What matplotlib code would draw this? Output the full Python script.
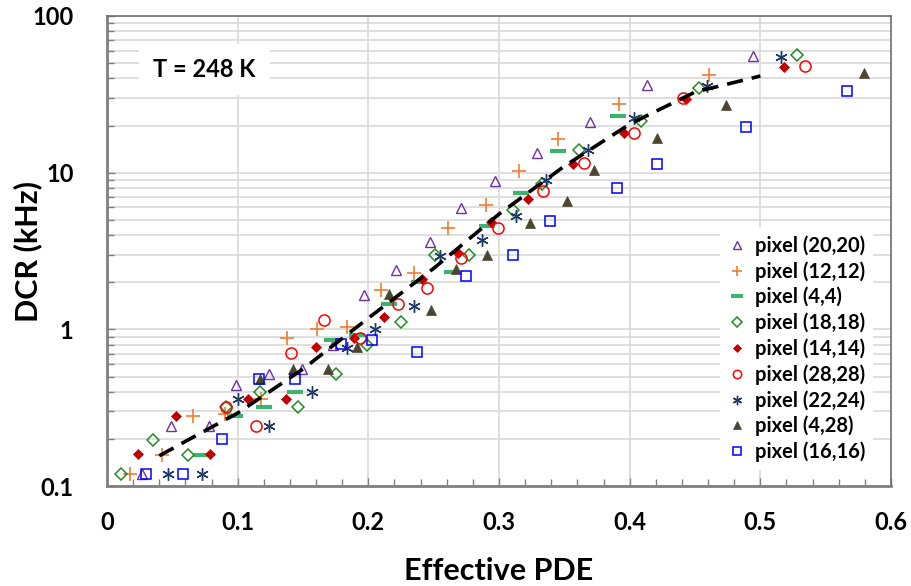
import numpy as np
import matplotlib
matplotlib.use("Agg")
import matplotlib.pyplot as plt
from matplotlib.ticker import FixedLocator, NullFormatter, LogLocator

plt.rcParams['font.family'] = ['Lato', 'DejaVu Sans']

# ---- data (Effective PDE, DCR kHz) ----
p2020_x = [0.027, 0.049, 0.078, 0.099, 0.124, 0.149, 0.173, 0.197, 0.221, 0.247, 0.271, 0.297, 0.329, 0.370, 0.413, 0.494]
p2020_y = [0.120, 0.240, 0.240, 0.440, 0.520, 0.560, 0.790, 1.660, 2.380, 3.590, 5.950, 8.870, 13.30, 21.20, 36.20, 55.40]

p1212_x = [0.018, 0.042, 0.066, 0.090, 0.118, 0.138, 0.161, 0.184, 0.210, 0.235, 0.261, 0.290, 0.315, 0.345, 0.392, 0.461]
p1212_y = [0.120, 0.158, 0.280, 0.290, 0.360, 0.880, 1.000, 1.030, 1.790, 2.280, 4.430, 6.240, 10.20, 16.40, 27.40, 42.00]

p44_x = [0.072, 0.098, 0.120, 0.144, 0.172, 0.191, 0.216, 0.239, 0.264, 0.291, 0.317, 0.345, 0.391]
p44_y = [0.158, 0.280, 0.320, 0.400, 0.850, 0.920, 1.460, 2.010, 2.320, 4.550, 7.470, 13.80, 23.10]

p1818_x = [0.011, 0.035, 0.062, 0.091, 0.117, 0.146, 0.175, 0.199, 0.225, 0.251, 0.277, 0.311, 0.333, 0.361, 0.409, 0.453, 0.528]
p1818_y = [0.120, 0.198, 0.158, 0.320, 0.400, 0.320, 0.520, 0.800, 1.120, 3.000, 3.000, 5.810, 8.520, 13.90, 21.30, 34.70, 56.00]

p1414_x = [0.024, 0.053, 0.079, 0.108, 0.137, 0.160, 0.189, 0.212, 0.241, 0.269, 0.294, 0.322, 0.357, 0.396, 0.443, 0.518]
p1414_y = [0.160, 0.280, 0.160, 0.360, 0.360, 0.770, 0.880, 1.200, 2.100, 3.050, 4.840, 6.810, 11.30, 17.80, 29.40, 47.50]

p2828_x = [0.091, 0.114, 0.141, 0.166, 0.194, 0.223, 0.245, 0.271, 0.299, 0.334, 0.365, 0.403, 0.441, 0.534]
p2828_y = [0.320, 0.240, 0.710, 1.150, 0.880, 1.450, 1.830, 2.850, 4.460, 7.690, 11.60, 17.90, 30.00, 47.80]

p2224_x = [0.047, 0.073, 0.100, 0.124, 0.157, 0.184, 0.205, 0.235, 0.255, 0.287, 0.313, 0.336, 0.368, 0.403, 0.459, 0.516]
p2224_y = [0.120, 0.120, 0.360, 0.240, 0.400, 0.760, 1.010, 1.400, 2.930, 3.710, 5.280, 8.930, 13.90, 22.30, 35.70, 55.10]

p428_x = [0.117, 0.142, 0.169, 0.191, 0.216, 0.248, 0.267, 0.291, 0.324, 0.352, 0.373, 0.421, 0.474, 0.579]
p428_y = [0.480, 0.560, 0.560, 0.770, 1.680, 1.330, 2.420, 3.000, 4.800, 6.550, 10.40, 16.70, 27.00, 43.40]

p1616_x = [0.030, 0.058, 0.088, 0.116, 0.144, 0.179, 0.203, 0.237, 0.275, 0.311, 0.339, 0.390, 0.421, 0.489, 0.566]
p1616_y = [0.120, 0.120, 0.200, 0.480, 0.480, 0.810, 0.860, 0.720, 2.200, 3.000, 4.950, 8.000, 11.40, 19.60, 33.20]

fit_x = [0.040, 0.070, 0.100, 0.150, 0.200, 0.250, 0.300, 0.350, 0.400, 0.450, 0.500]
fit_y = [0.156, 0.214, 0.292, 0.558, 1.180, 2.450, 5.440, 11.00, 20.40, 32.70, 41.40]

labels = ['pixel (20,20)', 'pixel (12,12)', 'pixel (4,4)', 'pixel (18,18)', 'pixel (14,14)',
          'pixel (28,28)', 'pixel (22,24)', 'pixel (4,28)', 'pixel (16,16)']

fig = plt.figure(figsize=(9.12, 5.86), dpi=100)
ax = fig.add_axes([0.1173, 0.1706, 0.8597, 0.8021])

styles = [
    (p2020_x, p2020_y, dict(marker='^', ms=7, mfc='none', mec='#7030A0', mew=1.0)),
    (p1212_x, p1212_y, dict(marker='+', ms=10, mec='#ED7D31', mew=1.2)),
    (p44_x, p44_y, dict(marker='_', ms=11, mec='#3CB371', mew=3.0)),
    (p1818_x, p1818_y, dict(marker='D', ms=6.5, mfc='none', mec='#228B22', mew=1.1)),
    (p1414_x, p1414_y, dict(marker='D', ms=5.5, mfc='#C00000', mec='#C00000', mew=0.5)),
    (p2828_x, p2828_y, dict(marker='o', ms=8, mfc='none', mec='#FF0000', mew=1.1)),
    (p2224_x, p2224_y, dict(marker=(6, 2, 0), ms=9, mec='#1F3864', mew=1.0)),
    (p428_x, p428_y, dict(marker='^', ms=7, mfc='#4A4630', mec='#4A4630', mew=0.5)),
    (p1616_x, p1616_y, dict(marker='s', ms=7, mfc='none', mec='#0000FF', mew=1.1)),
]
for (xs, ys, st), lab in zip(styles, labels):
    ax.plot(xs, ys, ls='none', label=lab, zorder=3, **st)

ax.plot(fit_x, fit_y, ls=(0, (4.5, 2.5)), color='black', lw=2.6, zorder=4)

ax.set_yscale('log')
ax.set_xlim(0, 0.6)
ax.set_ylim(0.1, 100)
ax.xaxis.set_major_locator(FixedLocator([0, 0.1, 0.2, 0.3, 0.4, 0.5, 0.6]))
ax.set_xticklabels(['0', '0.1', '0.2', '0.3', '0.4', '0.5', '0.6'])
ax.xaxis.set_minor_locator(FixedLocator(np.arange(0.02, 0.6, 0.02)))
ax.set_yticks([0.1, 1, 10, 100])
ax.set_yticklabels(['0.1', '1', '10', '100'])
ax.yaxis.set_minor_locator(LogLocator(base=10, subs=np.arange(2, 10), numticks=20))
ax.yaxis.set_minor_formatter(NullFormatter())

ax.grid(True, which='major', axis='x', color='#D9D9D9', lw=1.2)
ax.grid(True, which='both', axis='y', color='#D9D9D9', lw=1.2)
ax.set_axisbelow(True)

ax.tick_params(axis='both', which='major', direction='in', length=6, width=1, color='#808080',
               labelsize=17)
ax.tick_params(axis='x', which='major', pad=18)
ax.tick_params(axis='y', which='major', pad=24)
ax.tick_params(axis='both', which='minor', direction='in', length=5, width=1, color='#808080')
ax.tick_params(axis='x', which='both', top=False)
ax.tick_params(axis='y', which='both', right=False)
for lab in ax.get_xticklabels() + ax.get_yticklabels():
    lab.set_fontweight('bold')

for s in ['left', 'bottom']:
    ax.spines[s].set_color('#808080')
    ax.spines[s].set_linewidth(2)
for s in ['top', 'right']:
    ax.spines[s].set_color('#707070')
    ax.spines[s].set_linewidth(1.2)

ax.set_xlabel('Effective PDE', fontsize=22, fontweight='bold')
ax.set_ylabel('DCR (kHz)', fontsize=22, fontweight='bold')
ax.xaxis.set_label_coords(0.5, -0.150)
ax.yaxis.set_label_coords(-0.083, 0.5)

ax.text(0.059, 0.887, 'T = 248 K', transform=ax.transAxes, fontsize=17, fontweight='bold',
        va='center', ha='left',
        bbox=dict(facecolor='white', edgecolor='none', pad=10), zorder=5)

leg = ax.legend(loc='lower right', bbox_to_anchor=(0.99, 0.012), frameon=True, fancybox=False,
                edgecolor='none', facecolor='white', framealpha=1,
                handlelength=0.8, handletextpad=0.5, labelspacing=0.26, borderpad=0.4,
                markerscale=0.75, prop={'weight': 'bold', 'size': 14.5})

fig.savefig('out.png', dpi=100)
